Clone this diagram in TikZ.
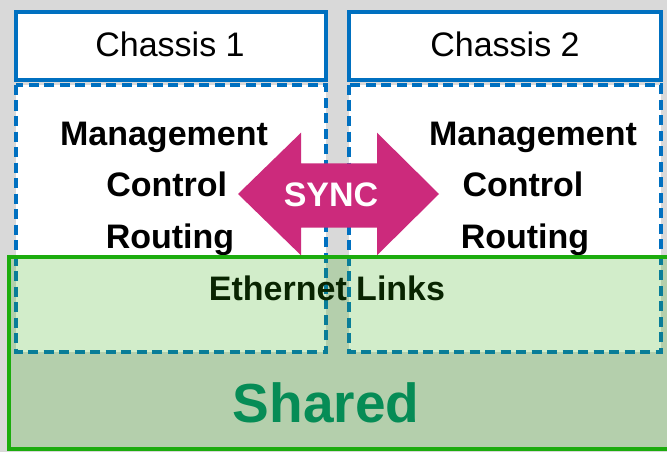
\documentclass[tikz,border=0pt]{standalone}
\usepackage{fontspec}
\setmainfont{Liberation Sans}
\begin{document}
\begin{tikzpicture}[x=1pt,y=-1pt]
\definecolor{bgGray}{RGB}{217,217,217}
\definecolor{chBlue}{RGB}{0,112,192}
\definecolor{syncPink}{RGB}{204,42,124}
\definecolor{edgeGreen}{RGB}{28,172,14}
\definecolor{tintGreen}{RGB}{45,174,7}
\definecolor{sharedText}{RGB}{6,140,86}
\tikzset{
  headbox/.style={draw=chBlue, line width=4pt, fill=white},
  planebox/.style={draw=chBlue, line width=3.5pt, fill=white, dash pattern=on 10pt off 5.5pt},
  sharedbox/.style={draw=edgeGreen, line width=4pt, fill=tintGreen, fill opacity=0.21},
  titletext/.style={font=\fontsize{34}{40}\selectfont, anchor=base, inner sep=0pt},
  planetext/.style={font=\fontsize{34}{40}\selectfont\bfseries, anchor=base, inner sep=0pt},
}
\useasboundingbox (0,0) rectangle (667,452);
\clip (0,0) rectangle (667,452);
\fill[bgGray] (0,0) rectangle (667,452);

% chassis headers
\draw[headbox] (16,12) rectangle (326,80);
\draw[headbox] (349,12) rectangle (661,80);
\node[titletext] (ch1) at (170,56.7) {Chassis 1};
\node[titletext] (ch2) at (505,56.7) {Chassis 2};

% per-chassis planes
\draw[planebox] (16,85) rectangle (326,352);
\draw[planebox] (349,85) rectangle (661,352);
\node[planetext] (mgmt1) at (164,145) {Management};
\node[planetext] (ctrl1) at (166.7,196.7) {Control};
\node[planetext] (rout1) at (170,248) {Routing};
\node[planetext] (mgmt2) at (533,145) {Management};
\node[planetext] (ctrl2) at (523,196.7) {Control};
\node[planetext] (rout2) at (525,248) {Routing};

% synchronisation arrow between the chassis
\fill[syncPink] (238,194) -- (301,132.7) -- (301,163.3) -- (377,163.3) -- (377,132.7)
  -- (439,194) -- (377,255.3) -- (377,227.7) -- (301,227.7) -- (301,255.3) -- cycle;
\node[planetext, text=white] (sync) at (331,206) {SYNC};

% links label, tinted by the shared layer above it
\node[planetext] (eth) at (327,300) {Ethernet Links};

% shared layer
\draw[sharedbox] (9,257) rectangle (680,449);
\node[font=\fontsize{55}{60}\selectfont\bfseries, anchor=base, inner sep=0pt, text=sharedText] (shared) at (326,422.7) {Shared};
\end{tikzpicture}
\end{document}
